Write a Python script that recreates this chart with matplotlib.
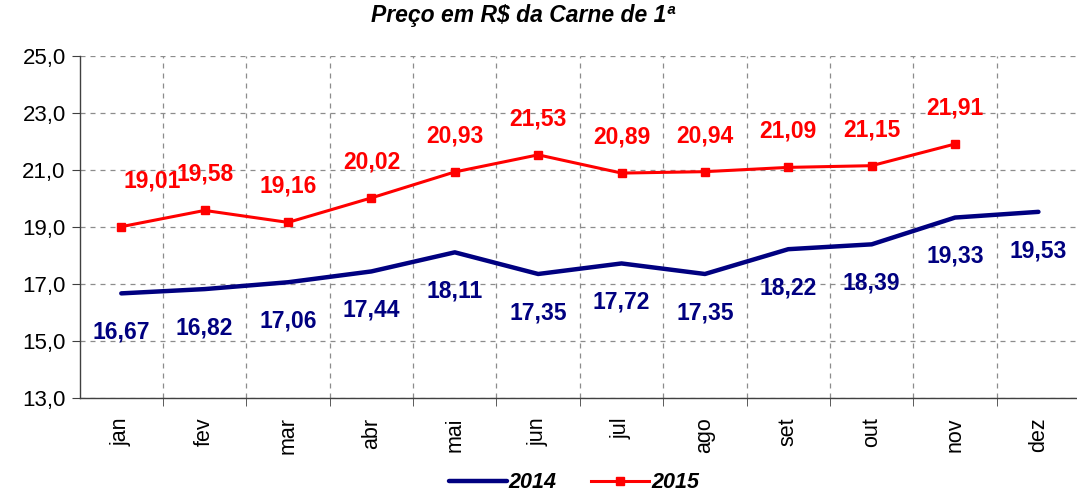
import numpy as np
import matplotlib
matplotlib.use("Agg")
import matplotlib.pyplot as plt
from matplotlib.ticker import FixedLocator

plt.rcParams['font.family'] = ['Liberation Sans', 'DejaVu Sans']

months = ["jan", "fev", "mar", "abr", "mai", "jun", "jul", "ago", "set", "out", "nov", "dez"]
price_2014 = [16.67, 16.82, 17.06, 17.44, 18.11, 17.35, 17.72, 17.35, 18.22, 18.39, 19.33, 19.53]
price_2015 = [19.01, 19.58, 19.16, 20.02, 20.93, 21.53, 20.89, 20.94, 21.09, 21.15, 21.91]

navy = "#000080"
red = "#ff0000"

fig = plt.figure(figsize=(10.77, 4.95), dpi=100)
ax = fig.add_axes([0.0739, 0.196, 0.929, 0.691])

x14 = np.arange(len(price_2014))
x15 = np.arange(len(price_2015))
ax.plot(x14, price_2014, color=navy, lw=3.2, solid_capstyle="round", label="2014", zorder=3)
ax.plot(x15, price_2015, color=red, lw=2.2, marker="s", ms=5.5, label="2015", zorder=4)

def fmt(v):
    return f"{v:.2f}".replace(".", ",")

for i, v in zip(x14, price_2014):
    ax.annotate(fmt(v), (i, v), xytext=(0, -28), textcoords="offset points",
                ha="center", va="center", color=navy, fontsize=16.5, fontweight="bold")
for i, v in zip(x15, price_2015):
    dx, dy = (22, 33) if i == 0 else (0, 26)
    ax.annotate(fmt(v), (i, v), xytext=(dx, dy), textcoords="offset points",
                ha="center", va="center", color=red, fontsize=16.5, fontweight="bold")

ax.set_xlim(-0.5, len(months) - 0.5)
ax.set_ylim(13, 25)
ax.set_yticks(np.arange(13, 25.1, 2))
ax.set_yticklabels([f"{t:.1f}".replace(".", ",") for t in np.arange(13, 25.1, 2)])
ax.set_xticks(x14)
ax.set_xticklabels(months, rotation=90)
ax.xaxis.set_minor_locator(FixedLocator(np.arange(0.5, len(months) - 0.5, 1)))
ax.tick_params(axis="x", which="major", length=0, pad=14, labelsize=15.5)
ax.tick_params(axis="x", which="minor", length=6, color="#404040")
ax.tick_params(axis="y", length=6, color="#404040", labelsize=16, pad=4)

ax.grid(True, axis="y", which="major", ls=(0, (4, 4)), color="#8c8c8c", lw=0.9)
ax.grid(True, axis="x", which="minor", ls=(0, (4, 4)), color="#8c8c8c", lw=0.9)
ax.grid(False, axis="x", which="major")
for s in ["top", "right"]:
    ax.spines[s].set_visible(False)
for s in ["left", "bottom"]:
    ax.spines[s].set_color("#404040")
    ax.spines[s].set_linewidth(1.0)

fig.text(0.486, 0.968, "Preço em R$ da Carne de 1ª", ha="center", va="center",
         fontsize=16.5, fontweight="bold", fontstyle="italic")

leg = fig.legend(loc="center", bbox_to_anchor=(0.533, 0.025), ncol=2, frameon=False,
                 prop={"size": 15.5, "weight": "bold", "style": "italic"},
                 handlelength=2.7, columnspacing=1.6, handletextpad=0.1)

fig.savefig("out.png", dpi=100)
plt.close(fig)
